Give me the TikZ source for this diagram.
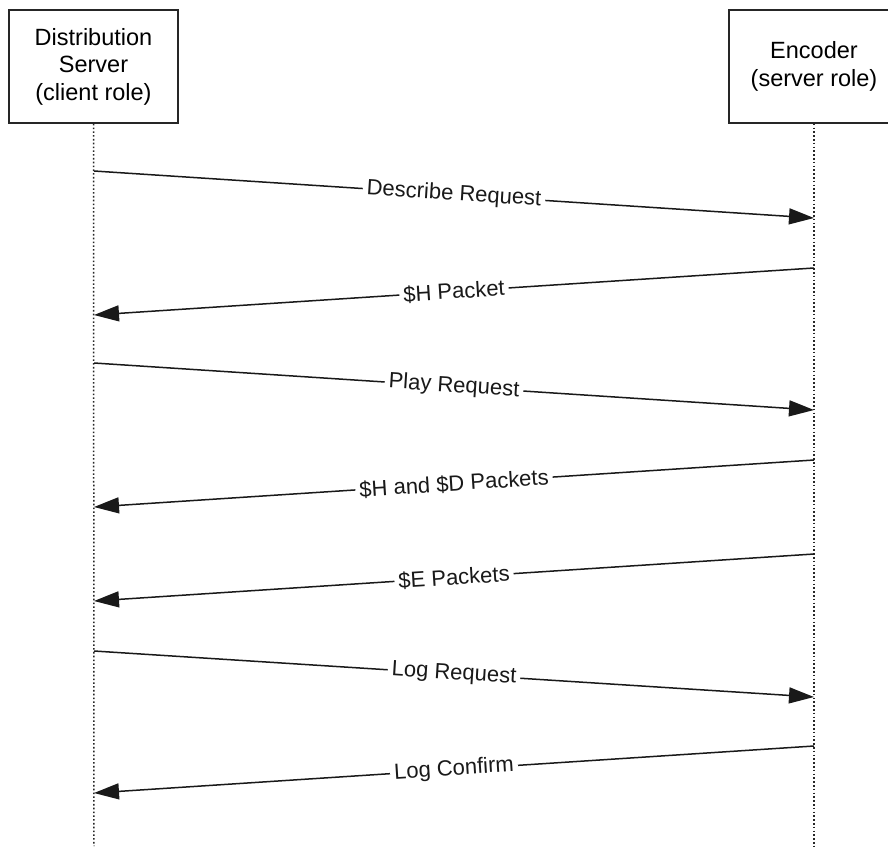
\documentclass[tikz,border=0pt]{standalone}
\usepackage{fontspec}
\setmainfont{Liberation Sans}
\usetikzlibrary{arrows.meta}
\begin{document}
\begin{tikzpicture}[x=1pt,y=-1pt,
  actor/.style={draw=black!85,line width=1.4pt,fill=white,minimum width=169pt,minimum height=113pt,
    align=center,font=\fontsize{23.5}{27.5}\selectfont,inner sep=0pt},
  lifeline/.style={black!85,line width=1.5pt,dash pattern=on 1.6pt off 2.2pt},
  msg/.style={black!90,line width=1.5pt,-{Triangle[length=25pt,width=16pt]}},
  lbl/.style={fill=white,inner xsep=4pt,inner ysep=1pt,font=\fontsize{22}{24}\selectfont,sloped,pos=0.5}]
\useasboundingbox[fill=white] (0,0) rectangle (888,846);
\clip (0,0) rectangle (888,846);
\node[actor] (ds) at (93.5,66.5) {Distribution\\Server\\(client role)};
\node[actor,minimum width=170pt] (enc) at (814,66.5) {Encoder\\(server role)};
\coordinate (dsb) at (94,846);
\coordinate (encb) at (814,846);
\draw[lifeline] (ds.south) -- (dsb);
\draw[lifeline] (enc.south) -- (encb);
% message end points
\coordinate (l1) at (94,171);  \coordinate (r1) at (814,218);
\coordinate (r2) at (814,268); \coordinate (l2) at (94,315);
\coordinate (l3) at (94,363);  \coordinate (r3) at (814,410);
\coordinate (r4) at (814,460); \coordinate (l4) at (94,507);
\coordinate (r5) at (814,554); \coordinate (l5) at (94,601);
\coordinate (l6) at (94,651);  \coordinate (r6) at (814,697);
\coordinate (r7) at (814,746); \coordinate (l7) at (94,793);
\draw[msg] (l1) -- node[lbl] (m1) {Describe Request} (r1);
\draw[msg] (r2) -- node[lbl] (m2) {\$H Packet} (l2);
\draw[msg] (l3) -- node[lbl] (m3) {Play Request} (r3);
\draw[msg] (r4) -- node[lbl] (m4) {\$H and \$D Packets} (l4);
\draw[msg] (r5) -- node[lbl] (m5) {\$E Packets} (l5);
\draw[msg] (l6) -- node[lbl] (m6) {Log Request} (r6);
\draw[msg] (r7) -- node[lbl] (m7) {Log Confirm} (l7);
\end{tikzpicture}
\end{document}
